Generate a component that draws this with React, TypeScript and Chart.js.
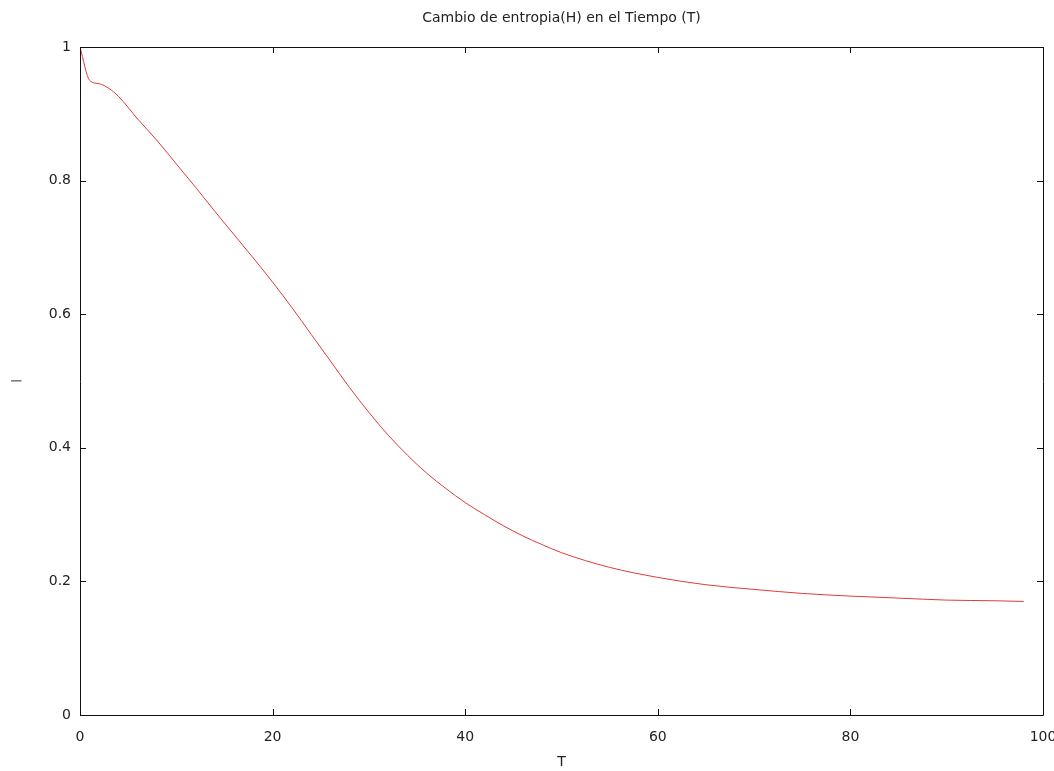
import React, { useEffect, useRef } from "react";
import { Chart, registerables } from "chart.js";

Chart.register(...registerables);

const chartTitle = "Cambio de entropia(H) en el Tiempo (T)";
const xAxisLabel = "T";
const yAxisLabel = "|";

const timeValues = [0, 1, 2, 3, 4, 6, 8, 10, 12, 14, 16, 18, 20, 22, 24, 26, 28, 30, 32, 34, 36, 38, 40, 42, 44, 46, 48, 50, 55, 60, 65, 70, 75, 80, 85, 90, 95, 98];
const entropyValues = [1.0, 0.95, 0.945, 0.938, 0.926, 0.892, 0.86, 0.825, 0.79, 0.754, 0.719, 0.684, 0.648, 0.61, 0.57, 0.53, 0.49, 0.453, 0.419, 0.389, 0.362, 0.339, 0.318, 0.3, 0.283, 0.268, 0.255, 0.243, 0.221, 0.206, 0.195, 0.188, 0.182, 0.178, 0.175, 0.172, 0.171, 0.17];

const xTickValues = [0, 20, 40, 60, 80, 100];
const yTickValues = [0, 0.2, 0.4, 0.6, 0.8, 1];

const FONT = "'DejaVu Sans', sans-serif";

const framePlugin = {
  id: "frameTicks",
  afterDraw(chart: any) {
    const { ctx, chartArea } = chart;
    const { left, right, top, bottom } = chartArea;
    const xs = chart.scales.x;
    const ys = chart.scales.y;
    const len = 6;
    ctx.save();
    ctx.strokeStyle = "#111";
    ctx.lineWidth = 1;
    ctx.beginPath();
    ctx.rect(left + 0.5, top + 0.5, right - left, bottom - top);
    for (const v of yTickValues) {
      const py = Math.round(ys.getPixelForValue(v)) + 0.5;
      ctx.moveTo(left, py);
      ctx.lineTo(left + len, py);
      ctx.moveTo(right, py);
      ctx.lineTo(right - len, py);
    }
    for (const v of xTickValues) {
      const px = Math.round(xs.getPixelForValue(v)) + 0.5;
      ctx.moveTo(px, bottom);
      ctx.lineTo(px, bottom - len);
      ctx.moveTo(px, top);
      ctx.lineTo(px, top + len);
    }
    ctx.stroke();
    ctx.restore();
  },
};

export default function App() {
  const canvasRef = useRef<HTMLCanvasElement | null>(null);

  useEffect(() => {
    document.body.style.margin = "0";
    const canvas = canvasRef.current;
    if (!canvas) return;
    const chart = new Chart(canvas, {
      type: "line",
      data: {
        datasets: [
          {
            label: "H",
            data: timeValues.map((t, i) => ({ x: t, y: entropyValues[i] })),
            borderColor: "#e03a3a",
            borderWidth: 1,
            pointRadius: 0,
            cubicInterpolationMode: "monotone",
            fill: false,
          },
        ],
      },
      options: {
        animation: false,
        responsive: true,
        maintainAspectRatio: false,
        layout: { padding: { left: 0, right: 0, top: 0, bottom: 0 } },
        plugins: {
          legend: { display: false },
          tooltip: { enabled: false },
          title: {
            display: true,
            fullSize: false,
            text: chartTitle,
            color: "#222",
            font: { family: FONT, size: 14, weight: "normal", lineHeight: 1.2 },
            padding: { top: 10, bottom: 20.2 },
          },
        },
        scales: {
          x: {
            type: "linear",
            min: 0,
            max: 100,
            afterBuildTicks: (scale: any) => {
              scale.ticks = xTickValues.map((v) => ({ value: v }));
            },
            afterFit: (scale: any) => {
              scale.height = 56;
              scale.paddingRight = 11;
              scale.paddingLeft = 0;
            },
            grid: { display: false, drawTicks: false },
            border: { display: false },
            ticks: {
              color: "#222",
              font: { family: FONT, size: 14 },
              padding: 14,
              maxRotation: 0,
              callback: (v: any) => String(v),
            },
            title: {
              display: true,
              text: xAxisLabel,
              color: "#222",
              font: { family: FONT, size: 14 },
              padding: { top: 0, bottom: 0 },
            },
          },
          y: {
            type: "linear",
            min: 0,
            max: 1,
            afterBuildTicks: (scale: any) => {
              scale.ticks = yTickValues.map((v) => ({ value: v }));
            },
            afterFit: (scale: any) => {
              scale.width = 80;
            },
            grid: { display: false, drawTicks: false },
            border: { display: false },
            ticks: {
              color: "#222",
              font: { family: FONT, size: 14 },
              padding: 9,
              callback: (v: any) => String(v),
            },
            title: {
              display: true,
              text: yAxisLabel,
              color: "#222",
              font: { family: FONT, size: 11 },
              padding: { top: 10, bottom: 0 },
            },
          },
        },
      },
      plugins: [framePlugin],
    } as any);
    return () => chart.destroy();
  }, []);

  return (
    <div style={{ width: 1054, height: 771, position: "relative" }}>
      <canvas ref={canvasRef} />
    </div>
  );
}
